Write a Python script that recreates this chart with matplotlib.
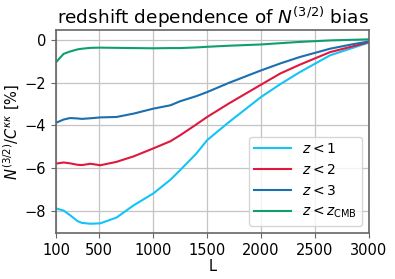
import matplotlib
matplotlib.use('Agg')
import matplotlib.pyplot as plt

# multipoles and N^(3/2) bias in percent
L = [100, 170, 230, 300, 340, 420, 510, 660, 820, 1000, 1160, 1250, 1400,
     1500, 1700, 2000, 2180, 2360, 2640, 2850, 3000]
z1 = [-7.90, -8.00, -8.22, -8.50, -8.58, -8.62, -8.60, -8.33, -7.75, -7.20,
      -6.55, -6.10, -5.32, -4.69, -3.85, -2.66, -2.05, -1.49, -0.70, -0.35, -0.10]
z2 = [-5.79, -5.74, -5.78, -5.85, -5.86, -5.80, -5.87, -5.71, -5.45, -5.08,
      -4.74, -4.46, -3.95, -3.60, -2.97, -2.08, -1.55, -1.14, -0.55, -0.28, -0.08]
z3 = [-3.87, -3.72, -3.65, -3.67, -3.69, -3.66, -3.62, -3.60, -3.44, -3.21,
      -3.05, -2.86, -2.62, -2.43, -2.00, -1.41, -1.08, -0.78, -0.39, -0.18, -0.05]
zcmb = [-1.02, -0.63, -0.52, -0.42, -0.39, -0.35, -0.34, -0.35, -0.36, -0.37,
        -0.36, -0.36, -0.33, -0.30, -0.25, -0.19, -0.13, -0.07, 0.00, 0.03, 0.05]

labels = [r'$z<1$', r'$z<2$', r'$z<3$', r'$z<z_{\rm CMB}$']
colors = ['#12c4f7', '#e0183e', '#1a6fae', '#0f9e72']
xticks = [100, 500, 1000, 1500, 2000, 2500, 3000]

fig = plt.figure(figsize=(3.95, 2.79), dpi=100)
ax = fig.add_axes([0.142, 0.165, 0.792, 0.727])
for ys, lab, col in zip([z1, z2, z3, zcmb], labels, colors):
    ax.plot(L, ys, color=col, lw=1.5, label=lab)
ax.set_xlim(100, 3000)
ax.set_xticks(xticks)
ax.grid(True, color='#c4c4c4', lw=0.9)
for sp in ax.spines.values():
    sp.set_color('#666666')
    sp.set_linewidth(1.2)
ax.tick_params(labelsize=10.5, color='#666666')
ax.set_xlabel('L', fontsize=10.5, labelpad=1)
ax.set_ylabel(r'$N^{(3/2)}/C^{\kappa\kappa}$ [%]', fontsize=10.5, labelpad=2)
ax.set_title(r'redshift dependence of $N^{(3/2)}$ bias', fontsize=13.3, pad=4)
ax.legend(loc='lower right', fontsize=10, handlelength=2.6)
fig.savefig('out.png', dpi=100)
